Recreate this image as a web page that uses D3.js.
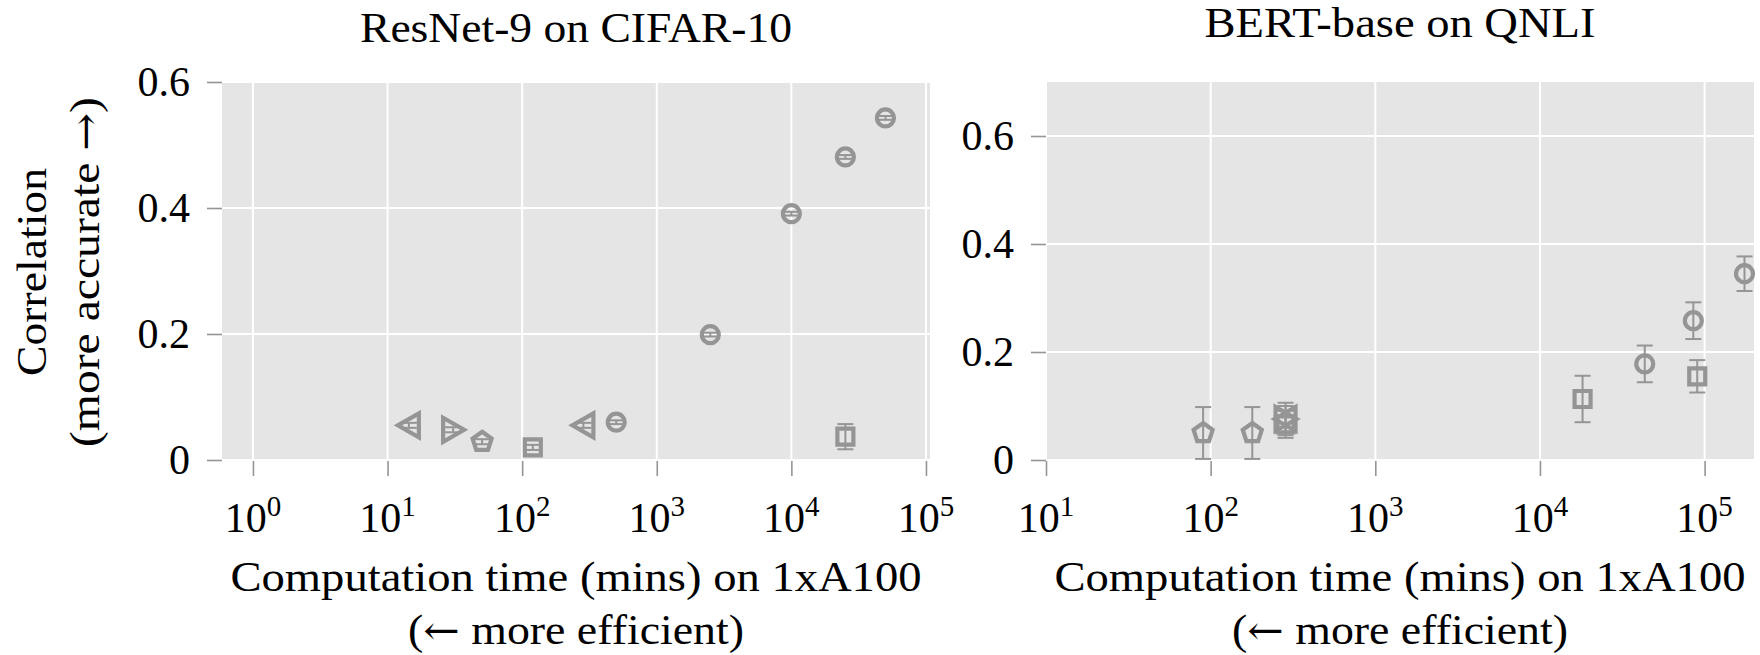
<!DOCTYPE html>
<html>
<head>
<meta charset="utf-8">
<script src="https://cdn.jsdelivr.net/npm/d3@7"></script>
<style>
  html, body { margin: 0; padding: 0; background: #ffffff; }
  svg { display: block; font-family: "Liberation Serif", "Times New Roman", serif; }
  .arrow { font-family: "DejaVu Serif", serif; }
</style>
</head>
<body>
<svg id="chart" width="1760" height="655"></svg>
<script>
// ---- ResNet-9 on CIFAR-10 ----
const resnetTime   = [14.4, 30.7, 50.4, 120, 285, 500, 2500, 10000, 25200, 50000, 25200];
const resnetCorr   = [0.055, 0.048, 0.029, 0.020, 0.055, 0.060, 0.199, 0.391, 0.481, 0.543, 0.037];
const resnetErr    = [0.004, 0.004, 0.004, 0.004, 0.004, 0.003, 0.003, 0.003, 0.003, 0.003, 0.020];
const resnetMarker = ["triangle-left", "triangle-right", "pentagon", "square", "triangle-left",
                      "circle", "circle", "circle", "circle", "circle", "square"];

// ---- BERT-base on QNLI ----
const bertTime   = [90, 179, 285, 285, 285, 18150, 43300, 85400, 90200, 174700];
const bertCorr   = [0.050, 0.050, 0.076, 0.076, 0.066, 0.113, 0.178, 0.258, 0.155, 0.345];
const bertErr    = [0.048, 0.048, 0.030, 0.024, 0.025, 0.043, 0.034, 0.034, 0.030, 0.032];
const bertMarker = ["pentagon", "pentagon", "triangle-left", "triangle-right", "square",
                    "square", "circle", "circle", "square", "circle"];

// ---- axes ----
const resnetXTicks = [1, 10, 100, 1000, 10000, 100000];
const bertXTicks   = [10, 100, 1000, 10000, 100000];
const resnetYTicks = [0, 0.2, 0.4, 0.6];
const bertYTicks   = [0, 0.2, 0.4, 0.6];

const resnetTitle = "ResNet-9 on CIFAR-10";
const bertTitle   = "BERT-base on QNLI";
// each label line is a list of [text, isArrow] runs
const xLabelLines = [
  [["Computation time (mins) on 1xA100", false]],
  [["(", false], ["\u2190", true], [" more efficient)", false]]
];
const yLabelLines = [
  [["Correlation", false]],
  [["(more accurate ", false], ["\u2192", true], [")", false]]
];

const svg = d3.select("#chart");
const INK = "#000000";
const MARK = "#959595";
const GRID = "#ffffff";
const PANEL_BG = "#e5e5e5";
const FONT = 42;

// hollow marker outlines centred on (0,0)
function markerPath(type) {
  const p = d3.path();
  if (type === "square") {
    p.rect(-8, -8, 16, 16);
  } else if (type === "pentagon") {
    for (let k = 0; k < 5; k++) {
      const a = -Math.PI / 2 + k * 2 * Math.PI / 5;
      const px = 10 * Math.cos(a), py = 10 * Math.sin(a);
      if (k === 0) p.moveTo(px, py); else p.lineTo(px, py);
    }
    p.closePath();
  } else if (type === "triangle-left") {
    p.moveTo(-11, 0); p.lineTo(10, -12); p.lineTo(10, 12); p.closePath();
  } else if (type === "triangle-right") {
    p.moveTo(11, 0); p.lineTo(-10, -12); p.lineTo(-10, 12); p.closePath();
  } else {
    p.arc(0, 0, 8.5, 0, 2 * Math.PI); p.closePath();
  }
  return p.toString();
}

function addRuns(textSel, runs) {
  runs.forEach(([s, isArrow]) => {
    const t = textSel.append("tspan").text(s);
    if (isArrow) t.attr("class", "arrow").attr("font-size", FONT * 0.95);
  });
}

function drawPanel(cfg) {
  const top = 82, bottom = 460;
  const g = svg.append("g");
  const x = d3.scaleLog().domain(cfg.xDomain).range([cfg.left, cfg.right]);
  const y = d3.scaleLinear().domain(cfg.yDomain).range([bottom, top]);

  // panel background
  g.append("rect")
    .attr("x", cfg.left).attr("y", top)
    .attr("width", cfg.right - cfg.left).attr("height", bottom - top)
    .attr("fill", PANEL_BG);

  // grid
  g.append("g").selectAll("line")
    .data(cfg.xTicks).join("line")
    .attr("x1", d => x(d)).attr("x2", d => x(d))
    .attr("y1", top).attr("y2", bottom)
    .attr("stroke", GRID).attr("stroke-width", 2);
  g.append("g").selectAll("line")
    .data(cfg.yTicks).join("line")
    .attr("x1", cfg.left).attr("x2", cfg.right)
    .attr("y1", d => y(d)).attr("y2", d => y(d))
    .attr("stroke", GRID).attr("stroke-width", 2);

  // x axis ticks
  const xAxisG = g.append("g")
    .attr("transform", `translate(0,${bottom + 1})`)
    .call(d3.axisBottom(x).tickValues(cfg.xTicks).tickSize(15).tickFormat(""));
  xAxisG.select(".domain").remove();
  xAxisG.selectAll(".tick line").attr("stroke", MARK).attr("stroke-width", 1.6);

  // x tick labels as 10^k
  const xt = g.append("g").selectAll("text")
    .data(cfg.xTicks).join("text")
    .attr("x", d => x(d)).attr("y", 532)
    .attr("text-anchor", "middle")
    .attr("font-size", FONT).attr("fill", INK);
  xt.append("tspan").text("10");
  xt.append("tspan")
    .attr("font-size", 29).attr("dy", -16)
    .text(d => Math.round(Math.log10(d)));

  // y axis
  const yAxisG = g.append("g")
    .attr("transform", `translate(${cfg.left},0)`)
    .call(d3.axisLeft(y).tickValues(cfg.yTicks).tickSize(15).tickPadding(17)
      .tickFormat(d => d === 0 ? "0" : d3.format(".1f")(d)));
  yAxisG.select(".domain").remove();
  yAxisG.selectAll(".tick line").attr("stroke", MARK).attr("stroke-width", 1.6);
  yAxisG.selectAll(".tick text")
    .attr("font-size", FONT).attr("font-family", "Liberation Serif, serif")
    .attr("fill", INK).attr("dy", "0.33em");

  // points
  const pts = cfg.time.map((t, i) => ({ t, c: cfg.corr[i], e: cfg.err[i], m: cfg.marker[i] }));

  g.append("g").selectAll("path")
    .data(pts).join("path")
    .attr("transform", d => `translate(${x(d.t)},${y(d.c)})`)
    .attr("d", d => markerPath(d.m))
    .attr("fill", "none")
    .attr("stroke", MARK).attr("stroke-width", 4.2)
    .attr("stroke-linejoin", "miter");

  const eb = g.append("g").attr("stroke", MARK).attr("stroke-width", 2);
  eb.selectAll("line.stem").data(pts).join("line").attr("class", "stem")
    .attr("x1", d => x(d.t)).attr("x2", d => x(d.t))
    .attr("y1", d => y(d.c - d.e)).attr("y2", d => y(d.c + d.e));
  eb.selectAll("line.capHi").data(pts).join("line").attr("class", "capHi")
    .attr("x1", d => x(d.t) - 8).attr("x2", d => x(d.t) + 8)
    .attr("y1", d => y(d.c + d.e)).attr("y2", d => y(d.c + d.e));
  eb.selectAll("line.capLo").data(pts).join("line").attr("class", "capLo")
    .attr("x1", d => x(d.t) - 8).attr("x2", d => x(d.t) + 8)
    .attr("y1", d => y(d.c - d.e)).attr("y2", d => y(d.c - d.e));

  // title
  const cx = (cfg.left + cfg.right) / 2;
  g.append("text")
    .attr("x", cx).attr("y", cfg.titleY)
    .attr("text-anchor", "middle")
    .attr("font-size", FONT).attr("fill", INK)
    .attr("textLength", cfg.titleWidth).attr("lengthAdjust", "spacingAndGlyphs")
    .text(cfg.title);

  // x label (two lines)
  const xlW = [691, 336];
  xLabelLines.forEach((runs, i) => {
    const t = g.append("text")
      .attr("x", cx).attr("y", 591 + i * 53)
      .attr("text-anchor", "middle")
      .attr("font-size", FONT).attr("fill", INK)
      .attr("textLength", xlW[i]).attr("lengthAdjust", "spacingAndGlyphs");
    addRuns(t, runs);
  });
}

drawPanel({
  left: 222, right: 930,
  xDomain: [Math.pow(10, -0.23), Math.pow(10, 5.03)],
  yDomain: [0, 0.6],
  xTicks: resnetXTicks, yTicks: resnetYTicks,
  time: resnetTime, corr: resnetCorr, err: resnetErr, marker: resnetMarker,
  title: resnetTitle, titleY: 42, titleWidth: 432
});

drawPanel({
  left: 1046, right: 1754,
  xDomain: [10, Math.pow(10, 5.3)],
  yDomain: [0, 0.7],
  xTicks: bertXTicks, yTicks: bertYTicks,
  time: bertTime, corr: bertCorr, err: bertErr, marker: bertMarker,
  title: bertTitle, titleY: 37, titleWidth: 391
});

// shared y label (two lines, rotated)
const ylW = [208, 350];
yLabelLines.forEach((runs, i) => {
  const t = svg.append("text")
    .attr("transform", `translate(${46 + i * 53},272) rotate(-90)`)
    .attr("text-anchor", "middle")
    .attr("font-size", FONT).attr("fill", INK)
    .attr("textLength", ylW[i]).attr("lengthAdjust", "spacingAndGlyphs");
  addRuns(t, runs);
});
</script>
</body>
</html>
